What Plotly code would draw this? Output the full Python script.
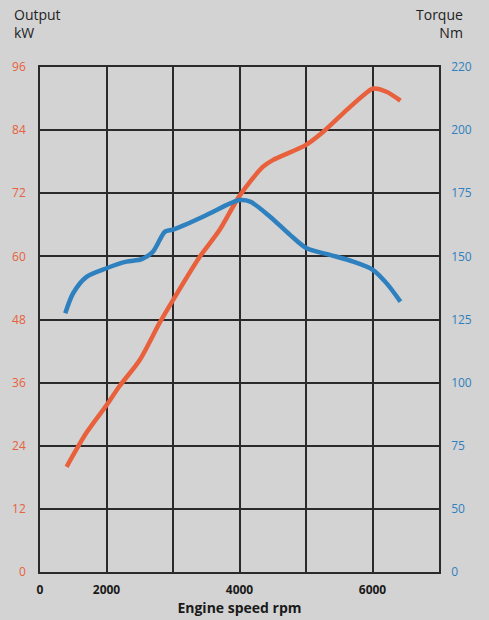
import plotly.graph_objects as go

# Output (kW) curve
rpm_kw = [1400, 1700, 2000, 2200, 2500, 2800, 3000, 3400, 3700, 4000, 4350, 4500, 5000, 5260, 5610, 5900, 6010, 6210, 6420]
kw = [20.0, 26.5, 31.7, 35.4, 40.3, 47.4, 51.7, 59.9, 65.0, 71.5, 77.0, 78.3, 81.2, 83.7, 87.8, 91.0, 91.9, 91.3, 89.6]

# Torque (Nm) curve
rpm_nm = [1380, 1500, 1700, 2000, 2300, 2530, 2700, 2880, 3000, 3450, 3860, 4000, 4160, 4460, 4760, 5010, 5360, 5710, 6010, 6210, 6420]
nm = [127.5, 135.5, 141.9, 145.3, 147.9, 148.9, 151.9, 159.8, 160.6, 165.7, 171.0, 172.3, 171.7, 165.7, 158.5, 153.2, 150.6, 147.9, 144.6, 139.4, 132.1]

x_ticks = [1000, 2000, 3000, 4000, 5000, 6000, 7000]
x_tick_text = ["0", "2000", "", "4000", "", "6000", ""]
kw_ticks = [0, 12, 24, 36, 48, 60, 72, 84, 96]
nm_ticks = [25, 50, 75, 100, 125, 150, 175, 200, 225]
nm_tick_text = ["0", "50", "75", "100", "125", "150", "175", "200", "220"]

BG = "#d3d3d3"
ORANGE = "#e8603c"
BLUE = "#2f80bf"
GRID = "#2a2a2a"
FONT = "Open Sans"

fig = go.Figure()
fig.add_trace(go.Scatter(x=rpm_kw, y=kw, mode="lines",
                         line=dict(color=ORANGE, width=4.5, shape="spline", smoothing=0.8),
                         yaxis="y", showlegend=False, hoverinfo="skip"))
fig.add_trace(go.Scatter(x=rpm_nm, y=nm, mode="lines",
                         line=dict(color=BLUE, width=4.5, shape="spline", smoothing=0.8),
                         yaxis="y2", showlegend=False, hoverinfo="skip"))

fig.update_layout(
    width=489, height=620,
    paper_bgcolor=BG, plot_bgcolor=BG,
    margin=dict(l=40, r=50, t=67, b=48),
    font=dict(family=FONT),
    xaxis=dict(range=[1000, 7000], tickvals=x_ticks, ticktext=x_tick_text, automargin=False,
               showgrid=True, gridcolor=GRID, gridwidth=1.5,
               showline=True, linecolor=GRID, linewidth=1.5, mirror=True,
               ticks="outside", ticklen=6, tickcolor=BG, zeroline=False,
               tickfont=dict(size=12, color="#1a1a1a", family=FONT, weight="bold"),
               title=dict(text="<b>Engine speed rpm</b>", font=dict(size=14, color="#1a1a1a"), standoff=4)),
    yaxis=dict(range=[0, 96], tickvals=kw_ticks, automargin=False,
               showgrid=True, gridcolor=GRID, gridwidth=1.5,
               showline=True, linecolor=GRID, linewidth=1.5, zeroline=False,
               ticks="outside", ticklen=10, tickcolor=BG,
               tickfont=dict(size=12, color=ORANGE, family=FONT)),
    yaxis2=dict(range=[25, 225], tickvals=nm_ticks, ticktext=nm_tick_text, automargin=False,
                overlaying="y", side="right", showgrid=False, zeroline=False,
                showline=True, linecolor=GRID, linewidth=1.5,
                ticks="outside", ticklen=8, tickcolor=BG,
                tickfont=dict(size=12, color=BLUE, family=FONT)),
    annotations=[
        dict(text="Output<br>kW", xref="paper", yref="paper", x=-28/399, y=1 + 64/505,
             xanchor="left", yanchor="top", align="left", showarrow=False,
             font=dict(size=14, color="#222222", family=FONT)),
        dict(text="Torque<br>Nm", xref="paper", yref="paper", x=1 + 26/399, y=1 + 64/505,
             xanchor="right", yanchor="top", align="right", showarrow=False,
             font=dict(size=14, color="#222222", family=FONT)),
    ],
)

fig.write_html("out.html", config={"displayModeBar": False},
               post_script="document.body.style.margin='0';document.body.style.background='#d3d3d3';")
